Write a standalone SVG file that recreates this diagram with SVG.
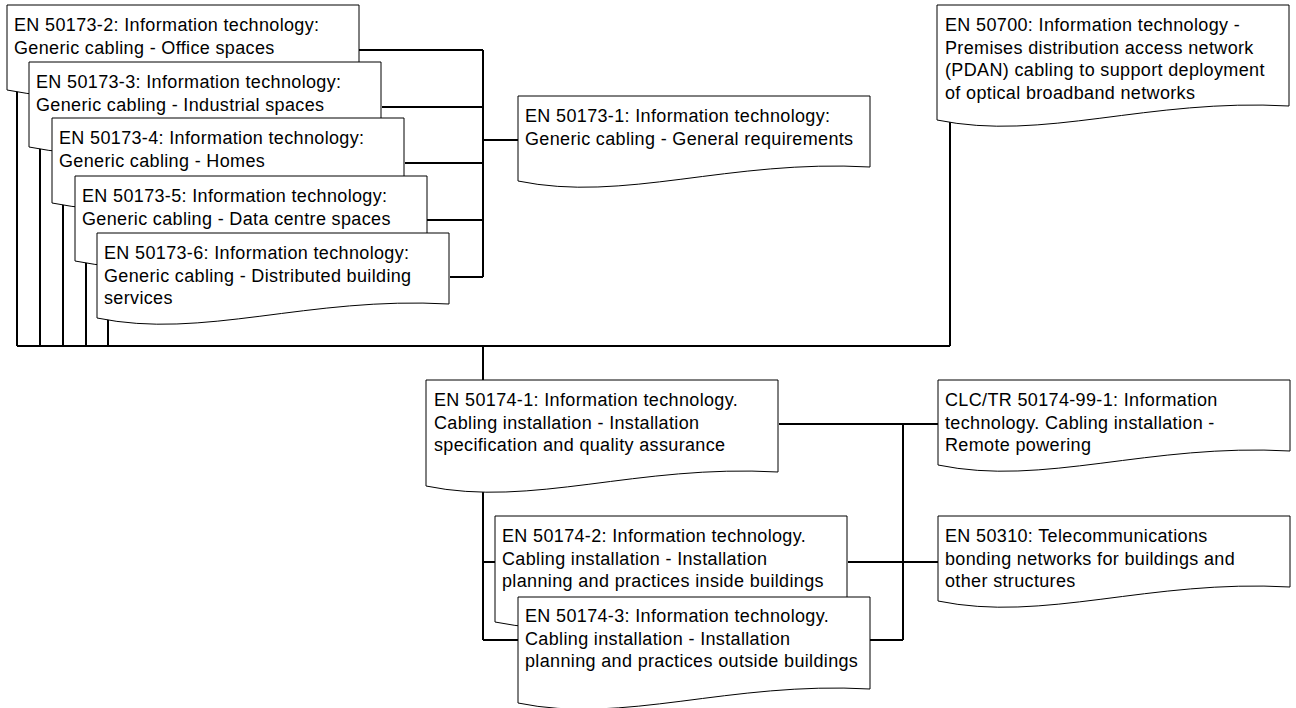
<svg xmlns="http://www.w3.org/2000/svg" width="1296" height="708" viewBox="0 0 1296 708">
<style>
.doc{fill:#fff;stroke:#000;stroke-width:1}
.c{fill:none;stroke:#000;stroke-width:2}
text{font-family:"Liberation Sans",Arial,sans-serif;font-size:18px;letter-spacing:0.35px;fill:#000}
</style>
<defs>
<path id="doc85" d="M0,0 H352 V71 C211,63 106,107 0,85 Z"/>
<path id="doc106" d="M0,0 H352 V92 C211,84 106,128 0,106 Z"/>
<path id="doc115" d="M0,0 H352 V101 C211,93 106,137 0,115 Z"/>
</defs>
<rect width="1296" height="708" fill="#fff"/>
<g id="connectors">
<path class="c" d="M359,50 H483 M382,107 H483 M405,163 H483 M427,220 H483 M450,277 H483 M483,50 V277 M483,140 H518"/>
<path class="c" d="M17,80 V346 M40,140 V346 M63,195 V346 M86,250 V346 M108,310 V346 M17,346 H950 M950,346 V115"/>
<path class="c" d="M483,346 V380"/>
<path class="c" d="M483,480 V640 M483,562 H495 M483,640 H518"/>
<path class="c" d="M779,424 H938 M903,424 V640 M848,562 H938 M870,640 H903"/>
</g>
<g id="n50173-2" transform="translate(7,5)"><use href="#doc85" class="doc"/><text x="7" y="26">EN 50173-2: Information technology:<tspan x="7" dy="22.6">Generic cabling - Office spaces</tspan></text></g>
<g id="n50173-3" transform="translate(29,62)"><use href="#doc85" class="doc"/><text x="7" y="26">EN 50173-3: Information technology:<tspan x="7" dy="22.6">Generic cabling - Industrial spaces</tspan></text></g>
<g id="n50173-4" transform="translate(52,118)"><use href="#doc85" class="doc"/><text x="7" y="26">EN 50173-4: Information technology:<tspan x="7" dy="22.6">Generic cabling - Homes</tspan></text></g>
<g id="n50173-5" transform="translate(75,176)"><use href="#doc85" class="doc"/><text x="7" y="26">EN 50173-5: Information technology:<tspan x="7" dy="22.6">Generic cabling - Data centre spaces</tspan></text></g>
<g id="n50173-6" transform="translate(97,233)"><use href="#doc85" class="doc"/><text x="7" y="26">EN 50173-6: Information technology:<tspan x="7" dy="22.6">Generic cabling - Distributed building</tspan><tspan x="7" dy="22.6">services</tspan></text></g>
<g id="n50173-1" transform="translate(518,96)"><use href="#doc85" class="doc"/><text x="7" y="26">EN 50173-1: Information technology:<tspan x="7" dy="22.6">Generic cabling - General requirements</tspan></text></g>
<g id="n50700" transform="translate(937,5)"><use href="#doc115" class="doc"/><text x="8" y="26">EN 50700: Information technology -<tspan x="8" dy="22.6">Premises distribution access network</tspan><tspan x="8" dy="22.6">(PDAN) cabling to support deployment</tspan><tspan x="8" dy="22.6">of optical broadband networks</tspan></text></g>
<g id="n50174-1" transform="translate(426,380)"><use href="#doc106" class="doc"/><text x="8" y="26">EN 50174-1: Information technology.<tspan x="8" dy="22.6">Cabling installation - Installation</tspan><tspan x="8" dy="22.6">specification and quality assurance</tspan></text></g>
<g id="nCLC" transform="translate(938,380)"><use href="#doc85" class="doc"/><text x="7" y="26">CLC/TR 50174-99-1: Information<tspan x="7" dy="22.6">technology. Cabling installation -</tspan><tspan x="7" dy="22.6">Remote powering</tspan></text></g>
<g id="n50310" transform="translate(938,516)"><use href="#doc85" class="doc"/><text x="7" y="26">EN 50310: Telecommunications<tspan x="7" dy="22.6">bonding networks for buildings and</tspan><tspan x="7" dy="22.6">other structures</tspan></text></g>
<g id="n50174-2" transform="translate(495,516)"><use href="#doc106" class="doc"/><text x="7" y="26">EN 50174-2: Information technology.<tspan x="7" dy="22.6">Cabling installation - Installation</tspan><tspan x="7" dy="22.6">planning and practices inside buildings</tspan></text></g>
<g id="n50174-3" transform="translate(518,597)"><use href="#doc106" class="doc"/><text x="7" y="25">EN 50174-3: Information technology.<tspan x="7" dy="22.6">Cabling installation - Installation</tspan><tspan x="7" dy="22.6">planning and practices outside buildings</tspan></text></g>
</svg>
